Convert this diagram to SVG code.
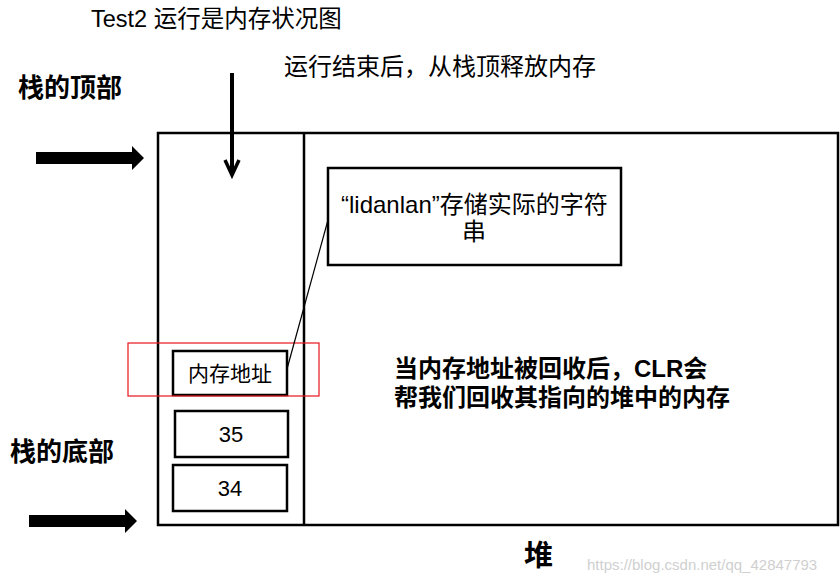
<svg xmlns="http://www.w3.org/2000/svg" width="840" height="582" viewBox="0 0 840 582">
<style>
.box{fill:#fff;stroke:#000;stroke-width:2.5}
.t{font-family:"Liberation Sans","Noto Sans CJK SC",sans-serif;fill:#000}
.b{font-weight:bold}
.c{text-anchor:middle}
</style>
<rect width="840" height="582" fill="#fff"/>

<g id="captions">
<text class="t" x="91" y="27" font-size="23.5">Test2 运行是内存状况图</text>
<text class="t" x="284" y="75" font-size="24">运行结束后，从栈顶释放内存</text>
<text class="t b" x="18" y="97" font-size="26">栈的顶部</text>
<text class="t b" x="10" y="461" font-size="26">栈的底部</text>
<text class="t b" x="524" y="566" font-size="29">堆</text>
<text class="t" x="587" y="570" font-size="15" style="fill:#d0d0d0">https://blog.csdn.net/qq_42847793</text>
</g>

<g id="memory">
<rect class="box" x="158" y="133" width="680" height="392"/>
<line x1="304" y1="133" x2="304" y2="525" stroke="#000" stroke-width="2.5"/>
</g>

<g id="string-node">
<rect class="box" x="328" y="168" width="293" height="97"/>
<text class="t" x="341" y="213" font-size="24">“lidanlan”存储实际的字符</text>
<text class="t c" x="474" y="240" font-size="24">串</text>
</g>

<g id="heap-note">
<text class="t b" x="394" y="377" font-size="24">当内存地址被回收后，CLR会</text>
<text class="t b" x="394" y="406" font-size="24">帮我们回收其指向的堆中的内存</text>
</g>

<g id="addr-node">
<rect class="box" x="173" y="351" width="114" height="44"/>
<text class="t c" x="230" y="381" font-size="21">内存地址</text>
</g>

<g id="n35">
<rect class="box" x="175" y="411" width="113" height="46"/>
<text class="t c" x="231" y="442" font-size="22">35</text>
</g>

<g id="n34">
<rect class="box" x="173" y="465" width="114" height="46"/>
<text class="t c" x="230" y="496" font-size="22">34</text>
</g>

<g id="highlight">
<rect x="128" y="343" width="191" height="53" fill="none" stroke="#e8141b" stroke-width="1.2"/>
</g>

<g id="connectors">
<line x1="287" y1="369" x2="328" y2="220" stroke="#000" stroke-width="1.2"/>
<line x1="232" y1="73" x2="232" y2="174" stroke="#000" stroke-width="4"/>
<path d="M225,160 L232,175 L239,160" fill="none" stroke="#000" stroke-width="3.5" stroke-linejoin="miter"/>
<path d="M36,152 H132 V146 L144,158 L132,170 V164 H36 Z" fill="#000"/>
<path d="M29,515 H125 V509 L137,521 L125,533 V527 H29 Z" fill="#000"/>
</g>
</svg>
